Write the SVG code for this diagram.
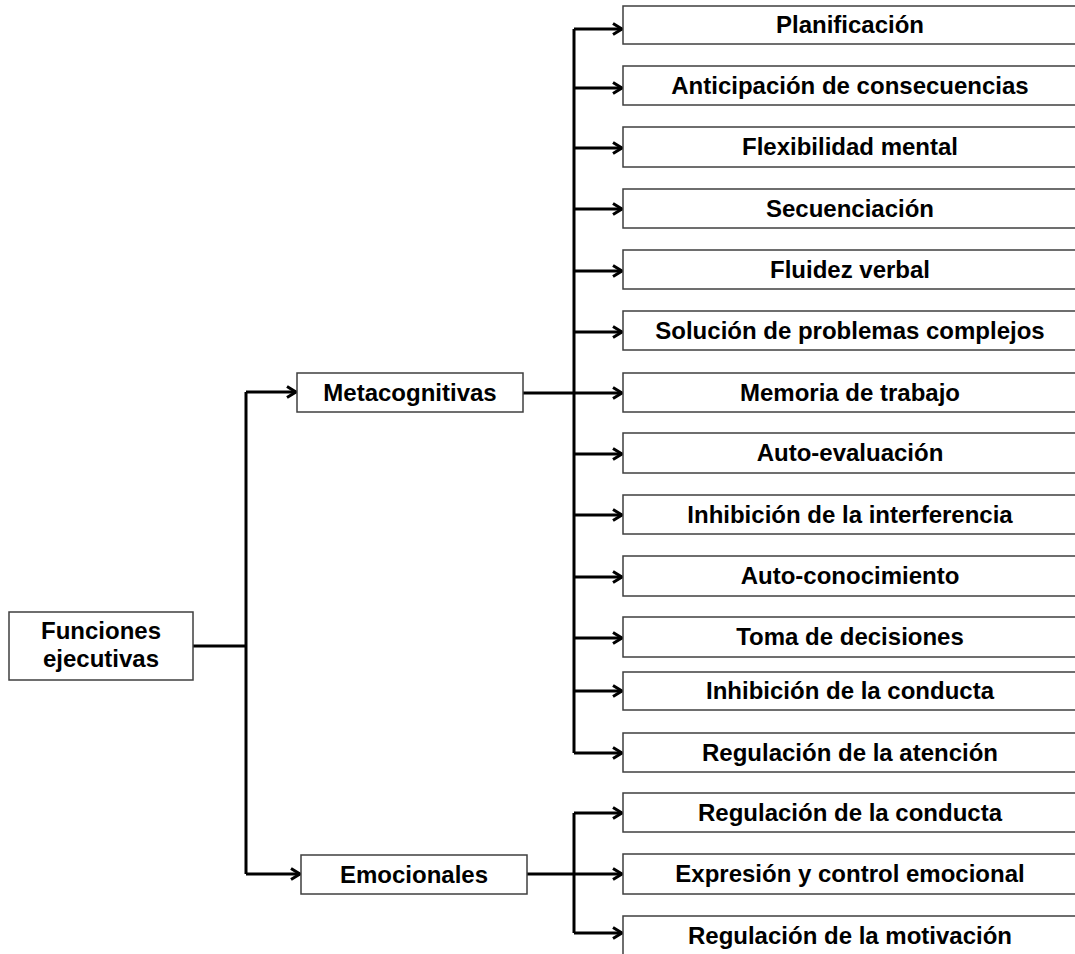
<svg xmlns="http://www.w3.org/2000/svg" width="1075" height="954" viewBox="0 0 1075 954">
<defs>
<style>
.box{fill:#fff;stroke:#3f3f3f;stroke-width:1.5}
.t{font-family:"Liberation Sans",Arial,sans-serif;font-weight:bold;font-size:24px;fill:#000;text-anchor:middle}
.c{fill:none;stroke:#000;stroke-width:3}
</style>
<marker id="ah" markerUnits="userSpaceOnUse" markerWidth="14" markerHeight="14" refX="11" refY="7" orient="auto">
<path d="M2,1.5 L11,7 L2,12.5" fill="none" stroke="#000" stroke-width="3"/>
</marker>
</defs>
<rect width="1075" height="954" fill="#fff"/>
<g id="connectors">
<path class="c" d="M193,646 H246"/>
<path class="c" d="M246,392 V874"/>
<path class="c" d="M246,392 H296" marker-end="url(#ah)"/>
<path class="c" d="M246,874 H300" marker-end="url(#ah)"/>
<path class="c" d="M523,393 H574"/>
<path class="c" d="M574,29 V753"/>
<path class="c" d="M574,29 H622" marker-end="url(#ah)"/>
<path class="c" d="M574,88 H622" marker-end="url(#ah)"/>
<path class="c" d="M574,148 H622" marker-end="url(#ah)"/>
<path class="c" d="M574,209 H622" marker-end="url(#ah)"/>
<path class="c" d="M574,271 H622" marker-end="url(#ah)"/>
<path class="c" d="M574,332 H622" marker-end="url(#ah)"/>
<path class="c" d="M574,393 H622" marker-end="url(#ah)"/>
<path class="c" d="M574,454 H622" marker-end="url(#ah)"/>
<path class="c" d="M574,515 H622" marker-end="url(#ah)"/>
<path class="c" d="M574,577 H622" marker-end="url(#ah)"/>
<path class="c" d="M574,638 H622" marker-end="url(#ah)"/>
<path class="c" d="M574,691 H622" marker-end="url(#ah)"/>
<path class="c" d="M574,753 H622" marker-end="url(#ah)"/>
<path class="c" d="M527,874 H574"/>
<path class="c" d="M574,813 V933"/>
<path class="c" d="M574,813 H622" marker-end="url(#ah)"/>
<path class="c" d="M574,874 H622" marker-end="url(#ah)"/>
<path class="c" d="M574,933 H622" marker-end="url(#ah)"/>
</g>
<g id="root"><rect class="box" x="9" y="612" width="184" height="68"/><text class="t" x="101" y="639">Funciones</text><text class="t" x="101" y="667">ejecutivas</text></g>
<g id="metacognitivas"><rect class="box" x="297" y="373" width="226" height="39"/><text class="t" x="410" y="401">Metacognitivas</text></g>
<g id="emocionales"><rect class="box" x="301" y="855" width="226" height="39"/><text class="t" x="414" y="883">Emocionales</text></g>
<g id="n1"><rect class="box" x="623" y="6" width="460" height="38"/><text class="t" x="850" y="33">Planificación</text></g>
<g id="n2"><rect class="box" x="623" y="66" width="460" height="39"/><text class="t" x="850" y="94">Anticipación de consecuencias</text></g>
<g id="n3"><rect class="box" x="623" y="127" width="460" height="40"/><text class="t" x="850" y="155">Flexibilidad mental</text></g>
<g id="n4"><rect class="box" x="623" y="189" width="460" height="39"/><text class="t" x="850" y="217">Secuenciación</text></g>
<g id="n5"><rect class="box" x="623" y="250" width="460" height="39"/><text class="t" x="850" y="278">Fluidez verbal</text></g>
<g id="n6"><rect class="box" x="623" y="311" width="460" height="39"/><text class="t" x="850" y="339">Solución de problemas complejos</text></g>
<g id="n7"><rect class="box" x="623" y="373" width="460" height="39"/><text class="t" x="850" y="401">Memoria de trabajo</text></g>
<g id="n8"><rect class="box" x="623" y="433" width="460" height="40"/><text class="t" x="850" y="461">Auto-evaluación</text></g>
<g id="n9"><rect class="box" x="623" y="495" width="460" height="39"/><text class="t" x="850" y="523">Inhibición de la interferencia</text></g>
<g id="n10"><rect class="box" x="623" y="556" width="460" height="40"/><text class="t" x="850" y="584">Auto-conocimiento</text></g>
<g id="n11"><rect class="box" x="623" y="617" width="460" height="40"/><text class="t" x="850" y="645">Toma de decisiones</text></g>
<g id="n12"><rect class="box" x="623" y="672" width="460" height="38"/><text class="t" x="850" y="699">Inhibición de la conducta</text></g>
<g id="n13"><rect class="box" x="623" y="733" width="460" height="39"/><text class="t" x="850" y="761">Regulación de la atención</text></g>
<g id="e1"><rect class="box" x="623" y="793" width="460" height="39"/><text class="t" x="850" y="821">Regulación de la conducta</text></g>
<g id="e2"><rect class="box" x="623" y="854" width="460" height="40"/><text class="t" x="850" y="882">Expresión y control emocional</text></g>
<g id="e3"><rect class="box" x="623" y="916" width="460" height="50"/><text class="t" x="850" y="944">Regulación de la motivación</text></g>
</svg>
